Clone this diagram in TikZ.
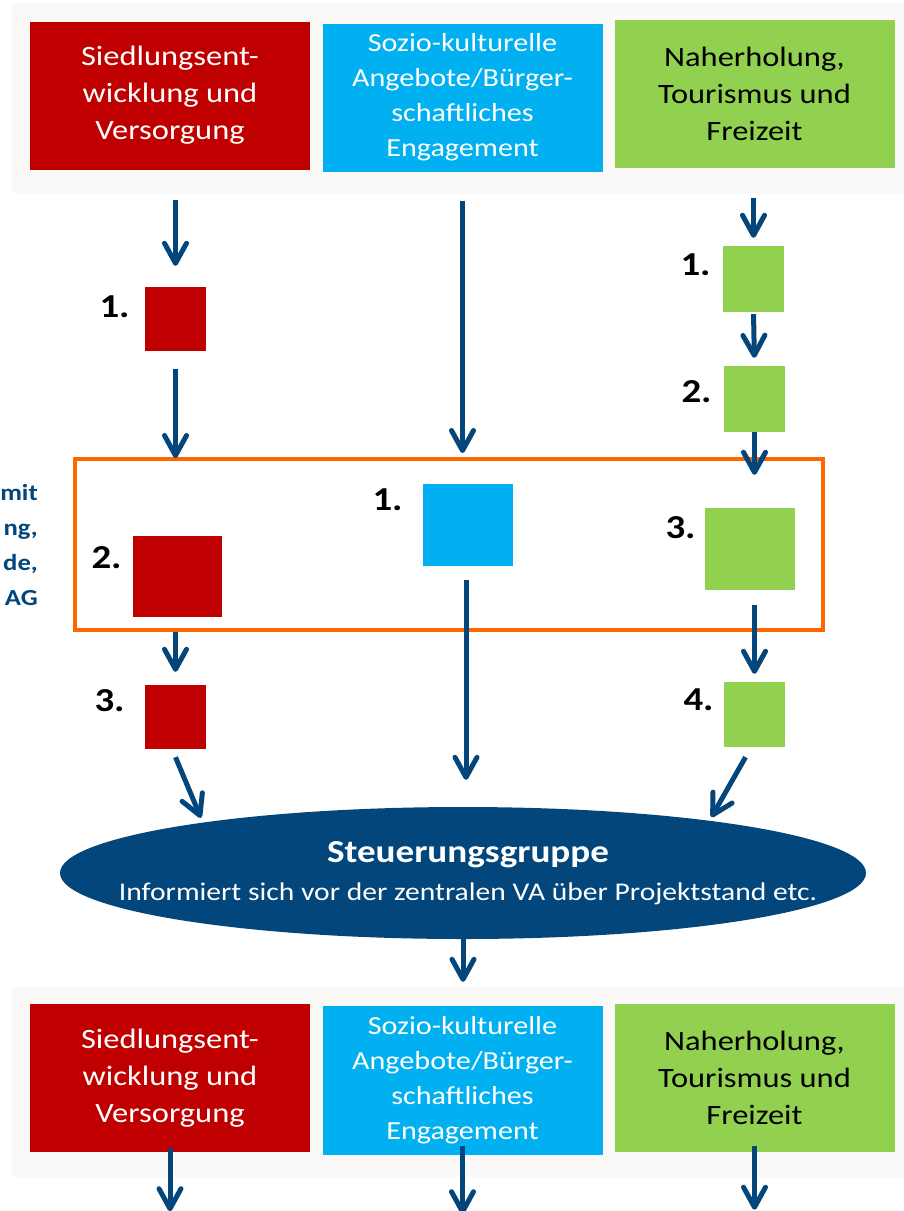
\documentclass[tikz,border=0pt]{standalone}
\usepackage{fontspec}
\setmainfont{Carlito}[FakeStretch=1.16]
\usepackage{tikz}
\usetikzlibrary{arrows.meta}
\usetikzlibrary{shapes.geometric}
\usetikzlibrary{positioning}

\definecolor{ahrot}{HTML}{C00000}
\definecolor{ahcyan}{HTML}{00B0F0}
\definecolor{ahgruen}{HTML}{92D050}
\definecolor{ahblau}{HTML}{03467B}
\definecolor{ahorange}{HTML}{FF6600}
\definecolor{ahpanel}{HTML}{FAF9F7}

\begin{document}
\begin{tikzpicture}[x=1pt,y=-1pt,
    panel/.style={fill=ahpanel,minimum width=892pt,minimum height=190pt,inner sep=0pt},
    kopf/.style={minimum width=280pt,minimum height=148pt,inner sep=0pt,align=center,
        font=\fontsize{28}{37}\selectfont},
    feld/.style={inner sep=0pt},
    num/.style={inner sep=0pt,anchor=east,font=\fontsize{33.5}{33.5}\selectfont\bfseries},
    arr/.style={draw=ahblau,line width=5pt,-{Straight Barb[length=20pt,width=22pt,round]}},
    ]
    \useasboundingbox (0,0) rectangle (904,1211);

    % oben: Handlungsfelder
    \node[panel] (topPanel) at (458,97.5) {};
    \node[kopf,fill=ahrot,text=white] (hRed) at (170,95.5) {Siedlungsent-\\wicklung und\\Versorgung};
    \node[kopf,fill=ahcyan,text=white,font=\fontsize{26}{35}\selectfont] (hCyan) at (462.5,97.5)
        {Sozio-kulturelle\\Angebote/B\"urger-\\schaftliches\\Engagement};
    \node[kopf,fill=ahgruen] (hGreen) at (754.5,93.5) {Naherholung,\\Tourismus und\\Freizeit};

    % orange Rahmen
    \node[draw=ahorange,line width=4pt,minimum width=748pt,minimum height=171pt,inner sep=0pt]
        (frame) at (449,544.5) {};
    \node[anchor=east,align=right,inner sep=0pt,text=ahblau,font=\fontsize{23}{35}\selectfont\bfseries]
        (sideNote) at (38,545) {mit\\ng,\\de,\\AG};

    % Projekte
    \node[feld,fill=ahrot,minimum width=61pt,minimum height=64pt] (r1) at (175.5,319) {};
    \node[feld,fill=ahrot,minimum width=89pt,minimum height=81pt] (r2) at (177.5,576.5) {};
    \node[feld,fill=ahrot,minimum width=61pt,minimum height=64pt] (r3) at (175.5,717) {};
    \node[feld,fill=ahcyan,minimum width=90pt,minimum height=82pt] (c1) at (468,525) {};
    \node[feld,fill=ahgruen,minimum width=61pt,minimum height=66pt] (g1) at (753.5,279) {};
    \node[feld,fill=ahgruen,minimum width=61pt,minimum height=66pt] (g2) at (754.5,399) {};
    \node[feld,fill=ahgruen,minimum width=90pt,minimum height=82pt] (g3) at (750,549) {};
    \node[feld,fill=ahgruen,minimum width=61pt,minimum height=65pt] (g4) at (754.5,714.5) {};

    \node[num] at ([xshift=-15pt,yshift=-20pt]r1.north west) {1.};
    \node[num] at ([xshift=-11pt,yshift=-22pt]r2.north west) {2.};
    \node[num] at ([xshift=-20pt,yshift=-16pt]r3.north west) {3.};
    \node[num] at ([xshift=-20pt,yshift=-16pt]c1.north west) {1.};
    \node[num] at ([xshift=-12pt,yshift=-19pt]g1.north west) {1.};
    \node[num] at ([xshift=-12pt,yshift=-26pt]g2.north west) {2.};
    \node[num] at ([xshift=-9pt,yshift=-20pt]g3.north west) {3.};
    \node[num] at ([xshift=-10pt,yshift=-18pt]g4.north west) {4.};

    % Steuerungsgruppe
    \node[ellipse,fill=ahblau,minimum width=806pt,minimum height=132pt,inner sep=0pt]
        (steer) at (463,873) {};
    \node[align=center,text=white,font=\fontsize{25.5}{38}\selectfont] (steerText) at ([xshift=5pt]steer.center)
        {{\fontsize{32}{32}\selectfont\bfseries Steuerungsgruppe}\\Informiert sich vor der zentralen VA \"uber Projektstand etc.};

    % unten: Handlungsfelder
    \node[panel] (botPanel) at (458,1082) {};
    \node[kopf,fill=ahrot,text=white] (bRed) at (170,1078) {Siedlungsent-\\wicklung und\\Versorgung};
    \node[kopf,fill=ahcyan,text=white,minimum height=149pt,font=\fontsize{26}{35}\selectfont] (bCyan) at (462.5,1080.5)
        {Sozio-kulturelle\\Angebote/B\"urger-\\schaftliches\\Engagement};
    \node[kopf,fill=ahgruen] (bGreen) at (754.5,1077.5) {Naherholung,\\Tourismus und\\Freizeit};
    \coordinate (outRed) at ([yshift=-59pt]bRed.south);
    \coordinate (outCyan) at ([yshift=-59pt]bCyan.south);
    \coordinate (outGreen) at ([yshift=-58pt]bGreen.south);

    % Pfeile
    \draw[arr,shorten <=30pt,shorten >=21pt] (r1.north |- hRed.south) -- (r1.north);
    \draw[arr,shorten <=18pt,shorten >=-1pt] (r1.south) -- (r1.south |- frame.north);
    \draw[arr,shorten >=13pt] (r3.north |- frame.south) -- (r3.north);
    \draw[arr,shorten >=5pt] ([yshift=-8pt]r3.south) -- (steer.169);
    \draw[arr,shorten <=29pt,shorten >=4pt] (hCyan.south) -- (hCyan.south |- frame.north);
    \draw[arr,shorten <=14pt,shorten >=27pt] ([xshift=-2pt]c1.south) -- ([xshift=-2pt]c1.south |- steer.north);
    \draw[arr,shorten <=30pt,shorten >=8pt] (g1.north |- hGreen.south) -- (g1.north);
    \draw[arr,shorten <=2pt,shorten >=8pt] (g1.south) -- (g2.north);
    \draw[arr,shorten >=33pt] (g2.south) -- (g2.south |- g3.north);
    \draw[arr,shorten <=15pt,shorten >=8pt] (g4.north |- g3.south) -- (g4.north);
    \draw[arr,shorten >=4pt] ([xshift=-9pt,yshift=-10pt]g4.south) -- (steer.12);
    \draw[arr,shorten >=5pt] (steer.south) -- (steer.south |- botPanel.north);
    \draw[arr,shorten <=-4pt] (bRed.south) -- (outRed);
    \draw[arr,shorten <=-9pt] (bCyan.south) -- (outCyan);
    \draw[arr,shorten <=-6pt] (bGreen.south) -- (outGreen);
\end{tikzpicture}
\end{document}
